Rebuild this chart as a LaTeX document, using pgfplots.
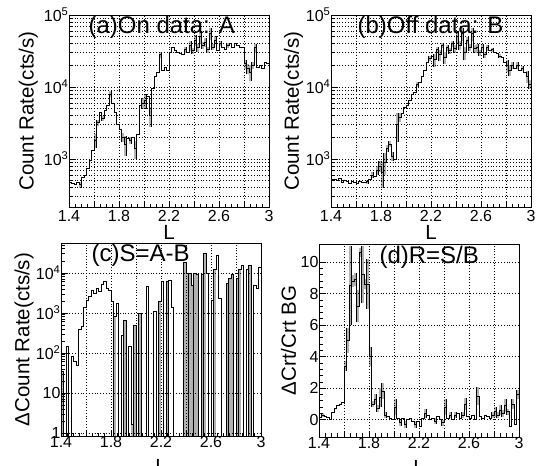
\documentclass[border=0pt]{standalone}
\usepackage{fontspec}
\setmainfont{Liberation Sans}
\usepackage{pgfplots}
\usepackage{pgfplotstable}
\pgfplotsset{compat=1.18}

\pgfplotstableread{
x y e
1.40 470 0
1.42 460 0
1.44 450 0
1.46 470 0
1.48 440 40
1.50 560 0
1.52 600 0
1.54 750 0
1.56 950 0
1.58 1300 0
1.60 1800 400
1.62 3200 300
1.64 4500 0
1.66 3700 300
1.68 4800 0
1.70 5500 0
1.72 8000 800
1.74 6000 0
1.76 4500 0
1.78 3000 0
1.80 2600 0
1.82 2000 300
1.84 1600 500
1.86 1900 0
1.88 1800 200
1.90 2000 0
1.92 1400 400
1.94 2200 0
1.96 5500 0
1.98 6000 1000
2.00 6500 1500
2.02 7500 0
2.04 4000 1200
2.06 9500 0
2.08 14000 0
2.10 16000 0
2.12 28000 2500
2.14 17000 0
2.16 19000 0
2.18 17000 0
2.20 30000 0
2.22 36000 0
2.24 32000 0
2.26 30000 0
2.28 29000 0
2.30 28000 0
2.32 33000 3000
2.34 30000 0
2.36 38000 6000
2.38 32000 3000
2.40 45000 8000
2.42 35000 4000
2.44 50000 10000
2.46 38000 4000
2.48 42000 6000
2.50 33000 3000
2.52 55000 10000
2.54 36000 3000
2.56 45000 6000
2.58 32000 0
2.60 40000 3000
2.62 35000 0
2.64 33000 0
2.66 38000 3000
2.68 40000 0
2.70 36000 0
2.72 40000 0
2.74 38000 0
2.76 36000 0
2.78 35000 0
2.80 21000 3000
2.82 18000 3000
2.84 16000 4000
2.86 20000 2000
2.88 35000 5000
2.90 19000 0
2.92 20000 0
2.94 18000 0
2.96 22000 0
2.98 21000 0
3.00 21000 0
}\dataA

\pgfplotstableread{
x y e
1.40 520 0
1.42 520 0
1.44 510 0
1.46 540 0
1.48 470 0
1.50 500 0
1.52 480 0
1.54 460 0
1.56 480 0
1.58 470 0
1.60 460 0
1.62 480 0
1.64 470 0
1.66 470 0
1.68 480 30
1.70 520 0
1.72 600 60
1.74 580 0
1.76 700 100
1.78 800 150
1.80 650 250
1.82 900 300
1.84 1400 150
1.86 1600 150
1.88 1100 150
1.90 1000 0
1.92 3000 1300
1.94 3800 500
1.96 4300 0
1.98 5200 0
2.00 5500 0
2.02 6500 0
2.04 8000 0
2.06 8500 0
2.08 10800 800
2.10 11500 0
2.12 14000 0
2.14 17000 0
2.16 22000 0
2.18 25000 2000
2.20 27000 0
2.22 24000 5000
2.24 33000 3000
2.26 28000 5000
2.28 38000 3000
2.30 26000 5000
2.32 35000 3000
2.34 32000 3000
2.36 40000 4000
2.38 34000 4000
2.40 50000 10000
2.42 38000 5000
2.44 55000 12000
2.46 30000 6000
2.48 45000 5000
2.50 36000 4000
2.52 55000 12000
2.54 34000 4000
2.56 35000 5000
2.58 30000 3000
2.60 36000 3000
2.62 28000 3000
2.64 35000 3000
2.66 32000 0
2.68 33000 2000
2.70 30000 0
2.72 29000 0
2.74 27000 2000
2.76 26000 0
2.78 22000 0
2.80 20000 4000
2.82 17000 3000
2.84 20000 2000
2.86 18000 0
2.88 20000 2000
2.90 17000 0
2.92 18000 1500
2.94 16000 0
2.96 14000 2500
2.98 11000 1500
3.00 11000 0
}\dataB

\pgfplotstableread{
x y g
1.40 34 34
1.42 0.3 0.3
1.44 144 0.3
1.46 0.3 0.3
1.48 81 0.3
1.50 60 0.3
1.52 50 0.3
1.54 380 0.3
1.56 450 0.3
1.58 1400 0.3
1.60 2100 0.3
1.62 2600 0.3
1.64 3600 0.3
1.66 3000 0.3
1.68 4000 0.3
1.70 3500 0.3
1.72 5200 0.3
1.74 6200 0.3
1.76 4000 0.3
1.78 3600 0.3
1.80 1900 0.3
1.82 800 800
1.84 1700 0.3
1.86 0.3 0.3
1.88 270 0.3
1.90 650 650
1.92 0.3 0.3
1.94 150 0.3
1.96 1.6 1.6
1.98 500 500
2.00 0.3 0.3
2.02 1000 1000
2.04 0.3 0.3
2.06 0.3 0.3
2.08 4500 0.3
2.10 0.3 0.3
2.12 0.3 0.3
2.14 1100 0.3
2.16 0.3 0.3
2.18 1900 1900
2.20 6300 0.3
2.22 0.3 0.3
2.24 6000 6000
2.26 6500 0.3
2.28 1400 0.3
2.30 0.3 0.3
2.32 0.3 0.3
2.34 0.3 0.3
2.36 0.3 0.3
2.38 18000 18000
2.40 10000 10000
2.42 10000 10000
2.44 5000 5000
2.46 10000 10000
2.48 9000 9000
2.50 0.3 0.3
2.52 9000 9000
2.54 30000 30000
2.56 10000 0.3
2.58 0.3 0.3
2.60 2000 0.3
2.62 12000 12000
2.64 28000 0.3
2.66 2300 0.3
2.68 0.3 0.3
2.70 0.3 0.3
2.72 5600 5600
2.74 7500 7500
2.76 9000 9000
2.78 0.3 0.3
2.80 7500 7500
2.82 12000 12000
2.84 15000 0.3
2.86 0.3 0.3
2.88 12000 0.3
2.90 15000 15000
2.92 0.3 0.3
2.94 5000 0.3
2.96 4000 0.3
2.98 14000 0.3
3.00 14000 0.3
}\dataC

\pgfplotstableread{
x y e
1.40 0.15 0
1.42 0.3 0.15
1.44 0.2 0
1.46 0.15 0
1.48 0.0 0
1.50 0.45 0
1.52 0.7 0
1.54 0.9 0
1.56 1.0 0
1.58 1.1 0
1.60 3.4 0.3
1.62 5.0 0.8
1.64 8.5 2.5
1.66 8.8 0.4
1.68 8.9 0.4
1.70 7.2 1.0
1.72 10.6 0.3
1.74 9.2 1.8
1.76 8.6 0.3
1.78 8.6 1.6
1.80 4.0 0.6
1.82 1.0 0.2
1.84 1.3 0.3
1.86 0.7 0.2
1.88 1.4 0.6
1.90 1.8 0.5
1.92 0.3 0.2
1.94 0.2 0
1.96 0.1 0
1.98 0.0 0
2.00 0.8 0.5
2.02 0.1 0
2.04 -0.2 0.2
2.06 0.1 0
2.08 -0.3 0.2
2.10 0.0 0
2.12 0.1 0
2.14 -0.1 0
2.16 -0.3 0.2
2.18 -0.1 0
2.20 -0.4 0
2.22 0.1 0
2.24 0.4 0.3
2.26 0.3 0
2.28 0.0 0
2.30 0.1 0
2.32 -0.1 0.2
2.34 0.2 0
2.36 0.0 0
2.38 -0.2 0.2
2.40 0.8 0.5
2.42 0.1 0
2.44 0.3 0.2
2.46 0.0 0
2.48 0.3 0.2
2.50 0.4 0
2.52 0.1 0
2.54 0.3 0.2
2.56 1.0 0.4
2.58 0.2 0
2.60 0.1 0
2.62 0.3 0
2.64 0.0 0
2.66 1.5 0.6
2.68 0.2 0
2.70 0.1 0
2.72 0.3 0
2.74 0.2 0
2.76 0.1 0
2.78 0.3 0.2
2.80 0.5 0.3
2.82 0.3 0.2
2.84 0.6 0.3
2.86 0.4 0.2
2.88 0.9 0.4
2.90 0.5 0.2
2.92 -0.4 0
2.94 1.0 0.3
2.96 -0.3 0
2.98 1.6 0.3
3.00 1.6 0
}\dataD

\pgfplotsset{
  every axis/.append style={
    scale only axis, width=200pt,
    xmin=1.4, xmax=3.0,
    xtick={1.4,1.6,1.8,2.0,2.2,2.4,2.6,2.8,3.0},
    xticklabels={1.4,,1.8,,2.2,,2.6,,3},
    minor x tick num=3,
    tick align=inside, xtick pos=bottom, ytick pos=left,
    major tick length=6pt, minor tick length=3.5pt,
    xmajorgrids=true, ymajorgrids=true,
    major grid style={black, line width=0.6pt, dash pattern=on 0.8pt off 2pt},
    minor grid style={black, line width=0.5pt, dash pattern=on 0.8pt off 2pt},
    axis line style={line width=0.8pt},
    tick style={black, line width=0.7pt},
    tick label style={font=\fontsize{16}{16}\selectfont},
    yticklabel style={xshift=3pt},
    label style={font=\fontsize{20.5}{21}\selectfont},
    axis on top,
  },
}

\begin{document}
\begin{tikzpicture}[x=1pt,y=1pt]
\useasboundingbox (0,0) rectangle (536,466);

% (a)
\begin{axis}[at={(69pt,259pt)}, anchor=south west, height=192pt,
  ymode=log, ymin=215, ymax=100000,
  ytick={1000,10000,100000},
  yticklabels={10\textsuperscript{3},10\textsuperscript{4},10\textsuperscript{5}},
  minor ytick={300,400,500,600,700,800,900,2000,3000,4000,5000,6000,7000,8000,9000,20000,30000,40000,50000,60000,70000,80000,90000},
  yminorgrids=true,
  ylabel={Count Rate(cts/s)},
  xlabel={L},
  xlabel style={at={(axis description cs:0.5,-0.133)}, anchor=center},
  ylabel style={at={(axis description cs:-0.203,0.5)}, anchor=center}]
\addplot[forget plot, mark=none, draw=none, error bars/y dir=both, error bars/y explicit, error bars/error mark=none, error bars/error bar style={line width=2.8pt, draw=black}] table[x expr=\thisrow{x}+0.01, y=y, y error=e] {\dataA};
\addplot[forget plot, mark=none, draw=none, error bars/y dir=both, error bars/y explicit, error bars/error mark=none, error bars/error bar style={line width=1.7pt, draw=gray!60}] table[x expr=\thisrow{x}+0.01, y=y, y error=e] {\dataA};
\addplot[const plot, black, line width=0.8pt] table[x=x, y=y] {\dataA};
\node[anchor=west, font=\fontsize{24}{24}\selectfont] at (rel axis cs:0.08,0.9375) {(a)On data: A};
\end{axis}

% (b)
\begin{axis}[at={(331pt,259pt)}, anchor=south west, height=192pt,
  ymode=log, ymin=215, ymax=100000,
  ytick={1000,10000,100000},
  yticklabels={10\textsuperscript{3},10\textsuperscript{4},10\textsuperscript{5}},
  minor ytick={300,400,500,600,700,800,900,2000,3000,4000,5000,6000,7000,8000,9000,20000,30000,40000,50000,60000,70000,80000,90000},
  yminorgrids=true,
  ylabel={Count Rate(cts/s)},
  xlabel={L},
  xlabel style={at={(axis description cs:0.5,-0.133)}, anchor=center},
  ylabel style={at={(axis description cs:-0.1875,0.5)}, anchor=center}]
\addplot[forget plot, mark=none, draw=none, error bars/y dir=both, error bars/y explicit, error bars/error mark=none, error bars/error bar style={line width=2.8pt, draw=black}] table[x expr=\thisrow{x}+0.01, y=y, y error=e] {\dataB};
\addplot[forget plot, mark=none, draw=none, error bars/y dir=both, error bars/y explicit, error bars/error mark=none, error bars/error bar style={line width=1.7pt, draw=gray!60}] table[x expr=\thisrow{x}+0.01, y=y, y error=e] {\dataB};
\addplot[const plot, black, line width=0.8pt] table[x=x, y=y] {\dataB};
\node[anchor=west, font=\fontsize{24}{24}\selectfont] at (rel axis cs:0.115,0.9375) {(b)Off data: B};
\end{axis}

% (c)
\begin{axis}[at={(61pt,30pt)}, anchor=south west, height=193pt,
  ymode=log, ymin=0.84, ymax=56000,
  ytick={1,10,100,1000,10000},
  yticklabels={1,10,10\textsuperscript{2},10\textsuperscript{3},10\textsuperscript{4}},
  minor ytick={2,3,4,5,6,7,8,9,20,30,40,50,60,70,80,90,200,300,400,500,600,700,800,900,2000,3000,4000,5000,6000,7000,8000,9000,20000,30000,40000,50000},
  xticklabel style={yshift=3pt},
  ylabel={ΔCount Rate(cts/s)},
  ylabel style={at={(axis description cs:-0.185,0.5)}, anchor=center},
  xlabel={L},
  xlabel style={at={(axis description cs:0.5,-0.16)}, anchor=center}]
\addplot[forget plot, mark=none, draw=none, error bars/y dir=minus, error bars/y explicit, error bars/error mark=none, error bars/error bar style={line width=3.2pt, draw=black}] table[x expr=\thisrow{x}+0.01, y=g, y error minus expr=\thisrow{g}-0.2] {\dataC};
\addplot[forget plot, mark=none, draw=none, error bars/y dir=minus, error bars/y explicit, error bars/error mark=none, error bars/error bar style={line width=2.0pt, draw=gray!60}] table[x expr=\thisrow{x}+0.01, y=g, y error minus expr=\thisrow{g}-0.2] {\dataC};
\addplot[const plot, black, line width=0.8pt] table[x=x, y=y] {\dataC};
\node[anchor=west, font=\fontsize{24}{24}\selectfont] at (rel axis cs:0.135,0.938) {(c)S=A-B};
\end{axis}

% (d)
\begin{axis}[at={(319pt,29pt)}, anchor=south west, height=193pt,
  ymin=-1.1, ymax=11.15,
  ytick={0,2,4,6,8,10}, yticklabels={0,2,4,6,8,10}, minor y tick num=4,
  xticklabel style={yshift=3pt},
  ylabel={ΔCrt/Crt BG},
  ylabel style={at={(axis description cs:-0.1525,0.5)}, anchor=center},
  xlabel={L},
  xlabel style={at={(axis description cs:0.5,-0.16)}, anchor=center}]
\addplot[forget plot, mark=none, draw=none, error bars/y dir=both, error bars/y explicit, error bars/error mark=none, error bars/error bar style={line width=2.8pt, draw=black}] table[x expr=\thisrow{x}+0.01, y=y, y error=e] {\dataD};
\addplot[forget plot, mark=none, draw=none, error bars/y dir=both, error bars/y explicit, error bars/error mark=none, error bars/error bar style={line width=1.7pt, draw=gray!60}] table[x expr=\thisrow{x}+0.01, y=y, y error=e] {\dataD};
\addplot[const plot, black, line width=0.8pt] table[x=x, y=y] {\dataD};
\node[anchor=west, font=\fontsize{24}{24}\selectfont] at (rel axis cs:0.285,0.933) {(d)R=S/B};
\end{axis}
\end{tikzpicture}
\end{document}
